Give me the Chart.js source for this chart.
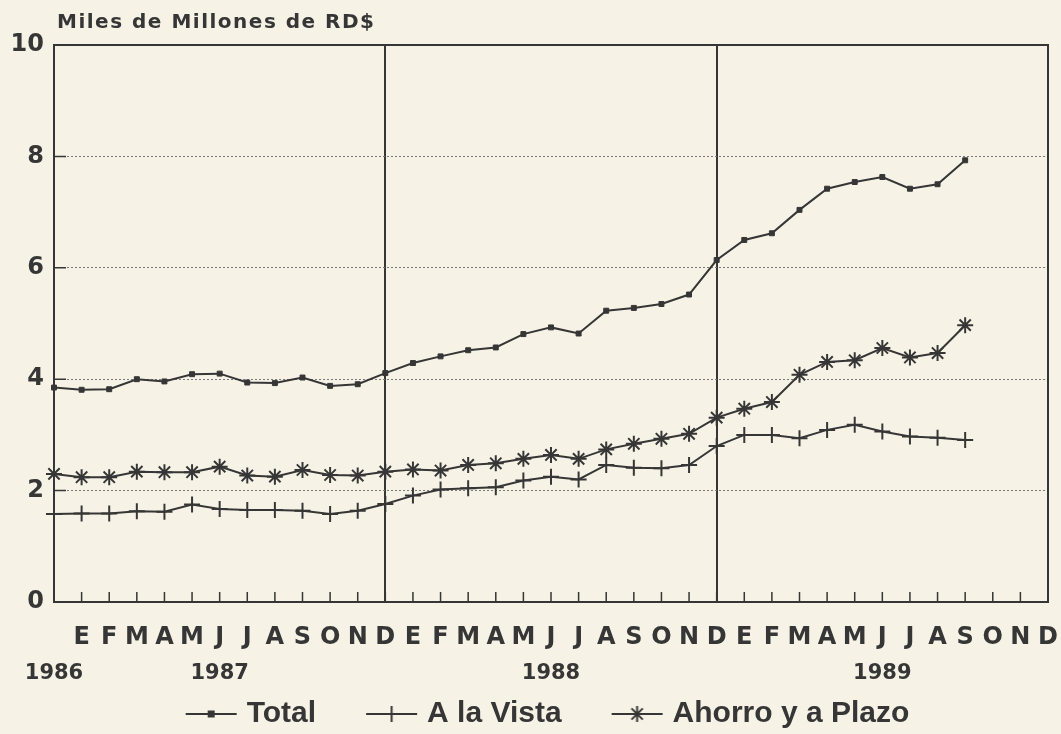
<!DOCTYPE html>
<html>
<head>
<meta charset="utf-8">
<script src="https://cdn.jsdelivr.net/npm/chart.js@4.4.0/dist/chart.umd.min.js"></script>
<style>
  html, body { margin: 0; padding: 0; background: #f6f2e6; }
  #c { display: block; }
</style>
</head>
<body>
<canvas id="c" width="1061" height="734"></canvas>
<script>
// ---- data (miles de millones de RD$), Dec 1986 .. Sep 1989 ----
const monthLetters = ['E','F','M','A','M','J','J','A','S','O','N','D'];
const monthLabels = [''].concat(monthLetters, monthLetters, monthLetters);
const yearNames = ['1986', '1987', '1988', '1989'];
const yearIndex = [0, 6, 18, 30];
const yTickValues = [0, 2, 4, 6, 8, 10];

const total = [3.85, 3.81, 3.82, 4.00, 3.96, 4.09, 4.10, 3.94, 3.93, 4.03, 3.88, 3.91,
               4.11, 4.29, 4.41, 4.52, 4.57, 4.81, 4.93, 4.82, 5.23, 5.28, 5.35, 5.52,
               6.14, 6.50, 6.62, 7.04, 7.42, 7.54, 7.63, 7.42, 7.50, 7.93];
const aLaVista = [1.58, 1.59, 1.59, 1.63, 1.62, 1.75, 1.67, 1.65, 1.65, 1.64, 1.58, 1.64,
                  1.76, 1.91, 2.02, 2.04, 2.06, 2.18, 2.25, 2.20, 2.46, 2.41, 2.40, 2.46,
                  2.80, 3.00, 3.00, 2.94, 3.09, 3.18, 3.06, 2.97, 2.95, 2.91];
const ahorroPlazo = [2.30, 2.24, 2.24, 2.34, 2.33, 2.33, 2.43, 2.27, 2.25, 2.37, 2.28, 2.27,
                     2.34, 2.38, 2.36, 2.46, 2.49, 2.57, 2.64, 2.57, 2.74, 2.84, 2.93, 3.02,
                     3.31, 3.47, 3.59, 4.08, 4.31, 4.34, 4.56, 4.39, 4.47, 4.97];
const seriesNames = ['Total', 'A la Vista', 'Ahorro y a Plazo'];
const titleText = 'Miles de Millones de RD$';
const dividerIndex = [12, 24];

// ---- styling ----
const INK = '#363636';
const AXIS_FONT = 'DejaVu Sans';
const yearLabels = monthLabels.map(() => '');
yearIndex.forEach((ix, k) => { yearLabels[ix] = yearNames[k]; });

const LEG_BOX = 83;
function legendIcon(style, radius) {
  const W = LEG_BOX + 12, H = 30;
  const c = document.createElement('canvas');
  c.width = W; c.height = H;
  const g = c.getContext('2d');
  g.strokeStyle = INK; g.fillStyle = INK; g.lineWidth = 2;
  const x0 = W - 52, x1 = W - 1, cy = H / 2;
  g.beginPath(); g.moveTo(x0, cy); g.lineTo(x1, cy); g.stroke();
  Chart.helpers.drawPoint(g, { pointStyle: style, radius: radius, rotation: 0, borderWidth: 2 }, (x0 + x1) / 2, cy);
  return c;
}
const icons = [legendIcon('rect', 3.5), legendIcon('cross', 8), legendIcon('star', 8)];

const decor = {
  id: 'decor',
  beforeDatasetsDraw(chart) {
    const { ctx, chartArea: a, scales } = chart;
    const x = scales.x, y = scales.y;
    ctx.save();
    ctx.strokeStyle = INK;
    ctx.lineWidth = 2;
    ctx.beginPath();
    ctx.moveTo(a.left, a.top); ctx.lineTo(a.right, a.top); ctx.lineTo(a.right, a.bottom);
    ctx.stroke();
    ctx.lineWidth = 1.5;
    ctx.beginPath();
    for (let i = 1; i < monthLabels.length - 1; i++) {
      const px = x.getPixelForValue(i);
      ctx.moveTo(px, a.bottom); ctx.lineTo(px, a.bottom - 10);
    }
    yTickValues.forEach(v => {
      if (v > 0 && v < 10) {
        const py = y.getPixelForValue(v);
        ctx.moveTo(a.left, py); ctx.lineTo(a.left + 12, py);
      }
    });
    ctx.stroke();
    ctx.restore();
  },
  afterDraw(chart) {
    const { ctx, chartArea: a } = chart;
    ctx.save();
    ctx.fillStyle = INK;
    ctx.font = 'bold 20px "' + AXIS_FONT + '"';
    ctx.textBaseline = 'alphabetic';
    ctx.textAlign = 'left';
    try { ctx.letterSpacing = '1.5px'; } catch (e) {}
    ctx.fillText(titleText, a.left + 3, a.top - 17);
    ctx.restore();
  }
};

const common = { borderColor: INK, backgroundColor: INK, borderWidth: 2, tension: 0, fill: false,
                 pointBorderColor: INK, pointBackgroundColor: INK, pointBorderWidth: 2, pointHoverRadius: 0 };

new Chart(document.getElementById('c'), {
  type: 'line',
  data: {
    labels: monthLabels,
    datasets: [
      Object.assign({ label: seriesNames[0], data: total, pointStyle: 'rect', pointRadius: 3.5 }, common, { pointBorderWidth: 1 }),
      Object.assign({ label: seriesNames[1], data: aLaVista, pointStyle: 'cross', pointRadius: 8 }, common),
      Object.assign({ label: seriesNames[2], data: ahorroPlazo, pointStyle: 'star', pointRadius: 8 }, common)
    ]
  },
  options: {
    responsive: false,
    animation: false,
    devicePixelRatio: 1,
    events: [],
    layout: { padding: { left: 10, right: 13, top: 45, bottom: 0 } },
    plugins: {
      tooltip: { enabled: false },
      legend: {
        position: 'bottom',
        maxHeight: 48,
        labels: {
          usePointStyle: true,
          pointStyleWidth: LEG_BOX,
          padding: 13,
          color: INK,
          font: { family: 'Liberation Sans', size: 30, weight: 'bold' },
          generateLabels(chart) {
            const items = Chart.defaults.plugins.legend.labels.generateLabels(chart);
            items.forEach((it, i) => { it.pointStyle = icons[i]; it.rotation = 0; });
            return items;
          }
        }
      }
    },
    scales: {
      x: {
        type: 'category',
        labels: monthLabels,
        offset: false,
        weight: 1,
        afterFit(s) { s.height = 50; s.paddingLeft = 0; s.paddingRight = 0; },
        grid: {
          drawTicks: false,
          lineWidth: 2,
          color: ctx => dividerIndex.includes(ctx.index) ? INK : 'rgba(0,0,0,0)'
        },
        border: { display: true, color: INK, width: 2 },
        ticks: { autoSkip: false, maxRotation: 0, minRotation: 0, padding: 21, color: INK,
                 font: { family: AXIS_FONT, size: 24, weight: 'bold', lineHeight: 1.2 } }
      },
      xYear: {
        type: 'category',
        labels: yearLabels,
        position: 'bottom',
        offset: false,
        weight: 2,
        afterFit(s) { s.height = 34; s.paddingLeft = 0; s.paddingRight = 0; },
        grid: { display: false, drawTicks: false },
        border: { display: false },
        ticks: { autoSkip: false, maxRotation: 0, minRotation: 0, padding: 9, color: INK,
                 font: { family: AXIS_FONT, size: 21, weight: 'bold', lineHeight: 1.2 } }
      },
      y: {
        min: 0, max: 10,
        afterFit(s) { s.width = 44; },
        afterBuildTicks(s) { s.ticks = yTickValues.map(v => ({ value: v })); },
        grid: {
          drawTicks: false,
          lineWidth: 1,
          color: ctx => (ctx.tick && ctx.tick.value > 0 && ctx.tick.value < 10) ? '#7a7a7a' : 'rgba(0,0,0,0)'
        },
        border: { display: true, color: INK, width: 2, dash: [2, 2] },
        ticks: { padding: 10, color: INK, font: { family: AXIS_FONT, size: 24, weight: 'bold' } }
      }
    }
  },
  plugins: [decor]
});
</script>
</body>
</html>
